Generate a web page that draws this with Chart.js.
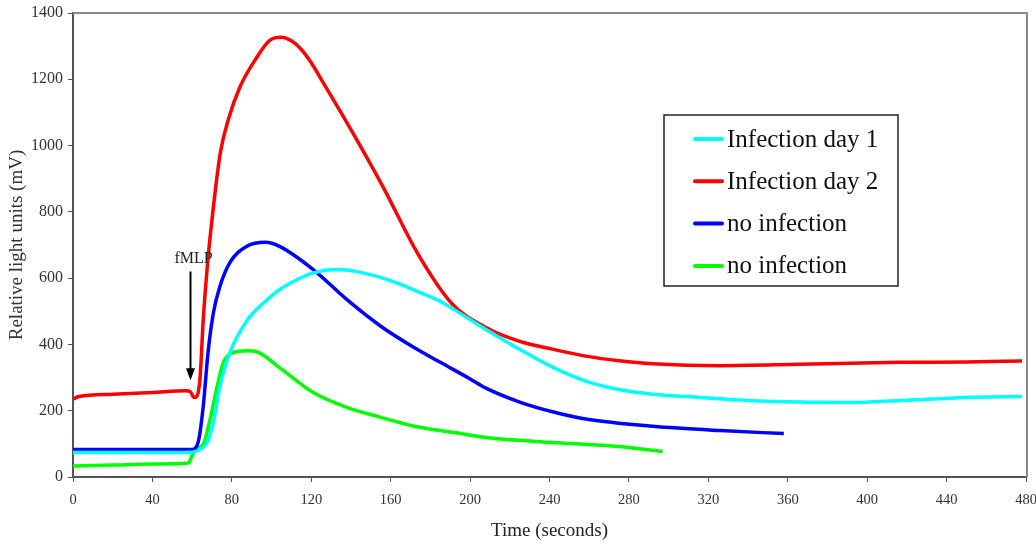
<!DOCTYPE html>
<html>
<head>
<meta charset="utf-8">
<script src="https://cdn.jsdelivr.net/npm/chart.js@4"></script>
<style>
  html, body { margin: 0; padding: 0; background: #fff; }
  #wrap { width: 1036px; height: 546px; position: relative; }
</style>
</head>
<body>
<div id="wrap"><canvas id="chart"></canvas></div>
<script>
// values (time in seconds, light units in mV)
const day1Time = [0, 20, 40, 60, 63, 66, 68, 71, 74, 79, 88, 96, 104, 113, 121, 133, 146, 163, 175, 185, 192, 208, 225, 242, 259, 275, 292, 316, 340, 366, 391, 417, 450, 478];
const day1Vals = [74, 74, 74, 75, 80, 92, 110, 173, 273, 375, 475, 525, 565, 596, 616, 626, 616, 586, 556, 530, 505, 445, 385, 330, 288, 264, 250, 240, 231, 226, 225, 231, 240, 243];

const day2Time = [0, 3, 20, 40, 57, 59, 61, 62.5, 64, 65.6, 67.5, 70, 74.2, 78.2, 84.2, 91.8, 99.4, 105, 110, 115, 120, 126, 140, 156, 174, 191, 208, 225, 242, 259, 275, 292, 326, 366, 416, 450, 478];
const day2Vals = [235, 243, 250, 255, 260, 258, 240, 245, 300, 475, 626, 776, 978, 1078, 1178, 1259, 1319, 1327, 1316, 1290, 1250, 1190, 1048, 877, 670, 522, 451, 409, 385, 364, 351, 342, 336, 340, 346, 347, 350];

const ctrlBlueTime = [0, 20, 40, 60, 63, 65.6, 68, 70.7, 74, 79, 87.6, 97, 104, 121, 138, 155, 172, 185, 200, 208, 225, 242, 259, 292, 326, 358];
const ctrlBlueVals = [83, 83, 83, 83, 104, 213, 375, 495, 575, 647, 696, 708, 696, 626, 535, 455, 390, 346, 296, 268, 226, 196, 174, 153, 140, 131];

const ctrlGreenTime = [0, 20, 40, 58, 60, 61.6, 65.6, 69, 72.6, 75.7, 80.7, 87.6, 92.6, 104, 121, 138, 155, 172, 185, 192, 208, 242, 275, 297];
const ctrlGreenVals = [33, 36, 39, 42, 65, 83, 98, 173, 273, 345, 375, 381, 378, 330, 255, 210, 180, 153, 140, 134, 119, 104, 92, 77];

const seriesLabels = ['Infection day 1', 'Infection day 2', 'no infection', 'no infection'];
const seriesColors = ['#00ffff', '#ff0000', '#0000ff', '#00ff00'];

// fMLP addition marker
const fmlpTime = 59;
const fmlpArrowTop = 620;
const fmlpArrowTip = 292;
const fmlpTextY = 657;

function toPoints(xs, ys) {
  return xs.map((x, i) => ({ x: x, y: ys[i] }));
}

const serif = "'Liberation Serif', 'Times New Roman', serif";

// gray frame, fMLP arrow and the boxed legend
const extras = {
  id: 'extras',
  beforeDatasetsDraw(chart) {
    const a = chart.chartArea;
    const ctx = chart.ctx;
    ctx.save();
    ctx.strokeStyle = '#8a8a8a';
    ctx.lineWidth = 2;
    ctx.beginPath();
    ctx.moveTo(a.left, a.top);
    ctx.lineTo(a.right + 1, a.top);
    ctx.lineTo(a.right + 1, a.bottom);
    ctx.stroke();
    ctx.restore();
  },
  afterDatasetsDraw(chart) {
    const ctx = chart.ctx;
    const xs = chart.scales.x, ys = chart.scales.y;
    const ax = Math.round(xs.getPixelForValue(fmlpTime)) + 0.5;
    const top = ys.getPixelForValue(fmlpArrowTop);
    const tip = ys.getPixelForValue(fmlpArrowTip);
    ctx.save();
    ctx.strokeStyle = '#000';
    ctx.fillStyle = '#000';
    ctx.lineWidth = 2;
    ctx.beginPath();
    ctx.moveTo(ax, top);
    ctx.lineTo(ax, tip - 8);
    ctx.stroke();
    ctx.beginPath();
    ctx.moveTo(ax - 4.5, tip - 12);
    ctx.lineTo(ax + 4.5, tip - 12);
    ctx.lineTo(ax, tip);
    ctx.closePath();
    ctx.fill();
    ctx.font = '16px ' + serif;
    ctx.fillStyle = '#222';
    ctx.textAlign = 'center';
    ctx.textBaseline = 'middle';
    ctx.fillText('fMLP', ax + 3, ys.getPixelForValue(fmlpTextY));

    // legend box
    const bx = 664, by = 115, bw = 234, bh = 171;
    ctx.fillStyle = '#fff';
    ctx.fillRect(bx, by, bw, bh);
    ctx.strokeStyle = '#222';
    ctx.lineWidth = 1.5;
    ctx.strokeRect(bx, by, bw, bh);
    ctx.font = '25px ' + serif;
    ctx.textAlign = 'left';
    chart.data.datasets.forEach((ds, i) => {
      const cy = 139 + i * 42.3;
      ctx.strokeStyle = ds.borderColor;
      ctx.lineWidth = 4;
      ctx.lineCap = 'round';
      ctx.beginPath();
      ctx.moveTo(695, cy);
      ctx.lineTo(722, cy);
      ctx.stroke();
      ctx.fillStyle = '#111';
      ctx.fillText(ds.label, 727, cy + 1);
    });
    ctx.restore();
  }
};

const datasets = [
  toPoints(day1Time, day1Vals),
  toPoints(day2Time, day2Vals),
  toPoints(ctrlBlueTime, ctrlBlueVals),
  toPoints(ctrlGreenTime, ctrlGreenVals)
].map((pts, i) => ({
  label: seriesLabels[i],
  data: pts,
  borderColor: seriesColors[i],
  backgroundColor: seriesColors[i],
  borderWidth: 3.5,
  pointRadius: 0,
  cubicInterpolationMode: 'monotone',
  fill: false
}));

const axisColor = '#555';

new Chart(document.getElementById('chart'), {
  type: 'line',
  data: { datasets: datasets },
  options: {
    responsive: true,
    maintainAspectRatio: false,
    animation: false,
    layout: { padding: { top: 13, right: 10, left: 0, bottom: 4 } },
    plugins: {
      legend: { display: false },
      tooltip: { enabled: false }
    },
    scales: {
      x: {
        type: 'linear',
        min: 0,
        max: 480,
        ticks: {
          stepSize: 40,
          color: '#333',
          font: { family: serif, size: 14.5 },
          padding: 9,
          maxRotation: 0
        },
        grid: { drawOnChartArea: false, drawTicks: true, tickLength: 5, color: axisColor },
        border: { color: axisColor, width: 2 },
        title: {
          display: true,
          text: 'Time (seconds)',
          color: '#222',
          font: { family: serif, size: 19 },
          padding: { top: 2, bottom: 0 }
        },
        afterFit(scale) {
          scale.height = 65;
          scale.paddingLeft = 0;
          scale.paddingRight = 0;
        }
      },
      y: {
        min: 0,
        max: 1400,
        ticks: {
          stepSize: 200,
          color: '#333',
          font: { family: serif, size: 16 },
          padding: 5,
          callback: v => String(v)
        },
        grid: { drawOnChartArea: false, drawTicks: true, tickLength: 5, color: axisColor },
        border: { color: axisColor, width: 2 },
        title: {
          display: true,
          text: 'Relative light units (mV)',
          color: '#333',
          font: { family: serif, size: 19 },
          padding: { top: 6, bottom: 0 }
        },
        afterFit(scale) {
          scale.width = 73;
          scale.paddingTop = 0;
          scale.paddingBottom = 0;
        }
      }
    }
  },
  plugins: [extras]
});
</script>
</body>
</html>
